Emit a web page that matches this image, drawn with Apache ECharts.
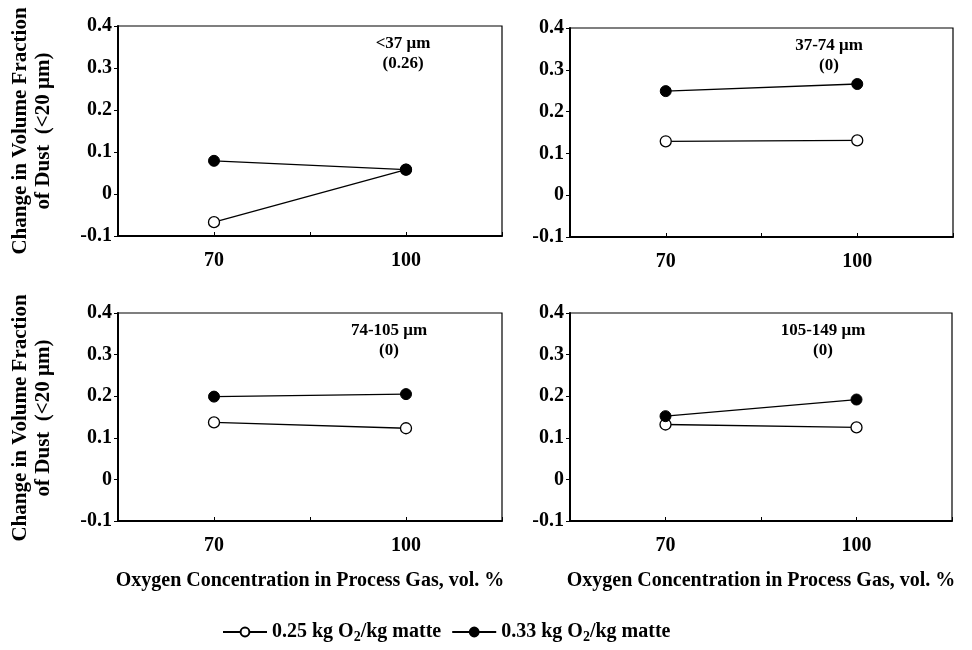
<!DOCTYPE html>
<html>
<head>
<meta charset="utf-8">
<script src="https://cdn.jsdelivr.net/npm/echarts@6/dist/echarts.min.js"></script>
<style>
  html, body { margin: 0; padding: 0; background: #fff; }
  #chart { width: 972px; height: 650px; }
</style>
</head>
<body>
<div id="chart"></div>
<script>
// oxygen concentration, vol. %
var oxygen = [70, 100];
// panels: particle size range and the value in brackets
var panelNames = ["<37 μm", "37-74 μm", "74-105 μm", "105-149 μm"];
var panelNotes = ["(0.26)", "(0)", "(0)", "(0)"];
// change in volume fraction of dust (<20 μm), one pair per panel
var low025 = [
  [-0.067, 0.058],
  [0.129, 0.131],
  [0.137, 0.123],
  [0.132, 0.125]
];
var high033 = [
  [0.079, 0.058],
  [0.249, 0.266],
  [0.199, 0.205],
  [0.152, 0.192]
];
var yTicks = [-0.1, 0, 0.1, 0.2, 0.3, 0.4];
var xTicks = [70, 100];

var seriesLow = "0.25 kg O2/kg matte";
var seriesHigh = "0.33 kg O2/kg matte";

var font = "Liberation Serif";

// plot boxes; noteX = centre of the size note from the box's left edge
var grids = [
  { left: 118, top: 26, width: 384, height: 210, noteX: 285 },
  { left: 570, top: 28, width: 383, height: 209, noteX: 259 },
  { left: 118, top: 313, width: 384, height: 208, noteX: 271 },
  { left: 570, top: 313, width: 382, height: 208, noteX: 253 }
];

var myChart = echarts.init(document.getElementById("chart"));

var gridOpts = [], xAxes = [], yAxes = [], series = [], graphic = [];
grids.forEach(function (g, i) {
  gridOpts.push({
    left: g.left, top: g.top, width: g.width, height: g.height,
    show: true,
    borderColor: "#000",
    borderWidth: 1.2,
    backgroundColor: "transparent"
  });
  xAxes.push({
    gridIndex: i,
    type: "value",
    min: 55,
    max: 115,
    interval: 15,
    splitLine: { show: false },
    axisLine: { onZero: false, lineStyle: { color: "#000", width: 2 } },
    axisTick: { inside: true, length: 4, lineStyle: { color: "#000" } },
    axisLabel: {
      margin: 15,
      color: "#000",
      fontFamily: font,
      fontWeight: "bold",
      fontSize: 20,
      formatter: function (v) {
        return xTicks.indexOf(v) >= 0 ? String(v) : "";
      }
    },
    name: i >= 2 ? "Oxygen Concentration in Process Gas, vol. %" : "",
    nameLocation: "middle",
    nameGap: 50,
    nameTextStyle: { color: "#000", fontFamily: font, fontWeight: "bold", fontSize: 20 }
  });
  yAxes.push({
    gridIndex: i,
    type: "value",
    min: yTicks[0],
    max: yTicks[yTicks.length - 1],
    interval: 0.1,
    splitLine: { show: false },
    axisLine: { lineStyle: { color: "#000", width: 2 } },
    axisTick: { length: 4, lineStyle: { color: "#000" } },
    axisLabel: {
      margin: 6,
      color: "#000",
      fontFamily: font,
      fontWeight: "bold",
      fontSize: 20,
      formatter: function (v) {
        var r = Math.round(v * 10) / 10;
        return r === 0 ? "0" : r.toFixed(1);
      }
    }
  });
  series.push({
    name: seriesLow,
    type: "line",
    xAxisIndex: i,
    yAxisIndex: i,
    data: oxygen.map(function (x, k) { return [x, low025[i][k]]; }),
    symbol: "circle",
    symbolSize: 11,
    lineStyle: { color: "#000", width: 1.3 },
    itemStyle: { color: "#fff", borderColor: "#000", borderWidth: 1.3 },
    z: 2
  });
  series.push({
    name: seriesHigh,
    type: "line",
    xAxisIndex: i,
    yAxisIndex: i,
    data: oxygen.map(function (x, k) { return [x, high033[i][k]]; }),
    symbol: "circle",
    symbolSize: 11,
    lineStyle: { color: "#000", width: 1.3 },
    itemStyle: { color: "#000", borderColor: "#000", borderWidth: 1 },
    z: 3
  });
  // size range note in the upper right of each panel
  graphic.push({
    type: "text",
    x: g.left + g.noteX,
    y: g.top + 8,
    style: {
      text: panelNames[i] + "\n" + panelNotes[i],
      align: "center",
      verticalAlign: "top",
      lineHeight: 20,
      fill: "#000",
      font: "bold 17px " + font
    }
  });
});

// y axis titles, one per row
[131, 418].forEach(function (cy) {
  graphic.push({
    type: "text",
    x: 32,
    y: cy,
    rotation: Math.PI / 2,
    style: {
      text: "Change in Volume Fraction\nof Dust  (<20 μm)",
      align: "center",
      verticalAlign: "middle",
      lineHeight: 23,
      fill: "#000",
      font: "bold 21px " + font
    }
  });
});

myChart.setOption({
  animation: false,
  backgroundColor: "#fff",
  grid: gridOpts,
  xAxis: xAxes,
  yAxis: yAxes,
  series: series,
  graphic: graphic,
  legend: {
    top: 622,
    left: 222,
    padding: 0,
    itemWidth: 44,
    itemHeight: 11,
    itemGap: 10,
    data: [seriesLow, seriesHigh],
    formatter: function (name) {
      return name.replace("O2", "O{sub|2}");
    },
    textStyle: {
      color: "#000",
      fontFamily: font,
      fontWeight: "bold",
      fontSize: 20,
      rich: {
        sub: {
          fontFamily: font,
          fontWeight: "bold",
          fontSize: 14,
          verticalAlign: "bottom",
          padding: [10, 0, 0, 0]
        }
      }
    }
  }
});
</script>
</body>
</html>
